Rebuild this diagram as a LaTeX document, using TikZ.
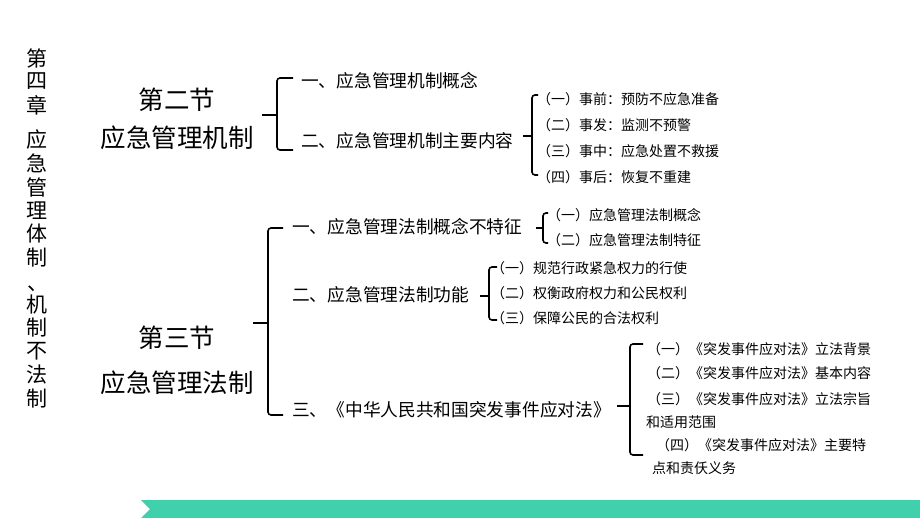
\documentclass[tikz,border=0pt]{standalone}
\usepackage{fontspec}
\setmainfont{Noto Sans CJK SC}
\definecolor{bandteal}{RGB}{64,208,172}

\begin{document}
\begin{tikzpicture}[x=1pt,y=-1pt,
    ttl/.style={font=\fontsize{21}{21}\selectfont, inner sep=0pt},
    sec/.style={font=\fontsize{25.5}{25.5}\selectfont, inner sep=0pt},
    itm/.style={font=\fontsize{17.7}{17.7}\selectfont, anchor=west, inner sep=0pt},
    sub/.style={font=\fontsize{14}{14}\selectfont, anchor=west, inner sep=0pt},
    brk/.style={line width=1.6pt, rounded corners=3pt},
    tick/.style={line width=1.6pt}]

    \useasboundingbox (0,0) rectangle (920,518);

    % chapter title, one char per cell
    \foreach \ch/\y in {第/58,四/81.5,章/105,应/140,急/163.5,管/187,理/210.5,体/234,制/257.5,机/305,制/328,不/351.5,法/375,制/398.5}
        \node[ttl] (ttl\y) at (37,\y) {\ch};
    \node[ttl, anchor=south west] (ttlsep) at (27,292) {、};

    % sections
    \node[sec] (s2a) at (177,100) {第二节};
    \node[sec] (s2b) at (177,138) {应急管理机制};
    \node[sec] (s3a) at (177,338) {第三节};
    \node[sec] (s3b) at (177,383) {应急管理法制};

    % section two
    \node[itm] (a1) at (301,81) {一、应急管理机制概念};
    \node[itm] (a2) at (301,141) {二、应急管理机制主要内容};
    \node[sub] (b1) at (537,99) {（一）事前：预防不应急准备};
    \node[sub] (b2) at (537,125) {（二）事发：监测不预警};
    \node[sub] (b3) at (537,151) {（三）事中：应急处置不救援};
    \node[sub] (b4) at (537,177) {（四）事后：恢复不重建};

    % section three
    \node[itm] (c1) at (292,227) {一、应急管理法制概念不特征};
    \node[itm] (c2) at (292,295) {二、应急管理法制功能};
    \node[itm] (c3) at (292,410) {三、《中华人民共和国突发事件应对法》};
    \node[sub] (d1) at (547,215) {（一）应急管理法制概念};
    \node[sub] (d2) at (547,240) {（二）应急管理法制特征};
    \node[sub] (e1) at (491,268) {（一）规范行政紧急权力的行使};
    \node[sub] (e2) at (491,293) {（二）权衡政府权力和公民权利};
    \node[sub] (e3) at (491,318) {（三）保障公民的合法权利};
    \node[sub] (f1) at (647,349) {（一）《突发事件应对法》立法背景};
    \node[sub] (f2) at (647,373) {（二）《突发事件应对法》基本内容};
    \node[sub] (f3) at (647,399) {（三）《突发事件应对法》立法宗旨};
    \node[sub] (f3b) at (646,422) {和适用范围};
    \node[sub] (f4) at (656,445) {（四）《突发事件应对法》主要特};
    \node[sub] (f4b) at (652,468) {点和责仸义务};

    % brackets
    \coordinate (s2top) at (293,78);
    \coordinate (s2bot) at (293,150);
    \coordinate (s2tip) at (262,115);
    \draw[brk] (s2top) -- (277,78) -- (277,150) -- (s2bot);
    \draw[tick] (s2tip) -- (277,115);

    \coordinate (a2top) at (538,95);
    \coordinate (a2bot) at (538,175);
    \coordinate (a2tip) at (523,136);
    \draw[brk] (a2top) -- (532,95) -- (532,175) -- (a2bot);
    \draw[tick] (a2tip) -- (532,136);

    \coordinate (s3top) at (283,228);
    \coordinate (s3bot) at (283,415);
    \coordinate (s3tip) at (253,323);
    \draw[brk] (s3top) -- (268,228) -- (268,415) -- (s3bot);
    \draw[tick] (s3tip) -- (268,323);

    \coordinate (c1top) at (548,213);
    \coordinate (c1bot) at (548,243);
    \coordinate (c1tip) at (536,228);
    \draw[brk] (c1top) -- (543,213) -- (543,243) -- (c1bot);
    \draw[tick] (c1tip) -- (543,228);

    \coordinate (c2top) at (497,267);
    \coordinate (c2bot) at (497,320);
    \coordinate (c2tip) at (480,296);
    \draw[brk] (c2top) -- (489,267) -- (489,320) -- (c2bot);
    \draw[tick] (c2tip) -- (489,296);

    \coordinate (c3top) at (643,344);
    \coordinate (c3bot) at (643,455);
    \coordinate (c3tip) at (617,406);
    \draw[brk] (c3top) -- (630,344) -- (630,455) -- (c3bot);
    \draw[tick] (c3tip) -- (630,406);

    % bottom band
    \fill[bandteal] (141,500) -- (920,500) -- (920,518) -- (141,518) -- (150,509) -- cycle;

\end{tikzpicture}
\end{document}
